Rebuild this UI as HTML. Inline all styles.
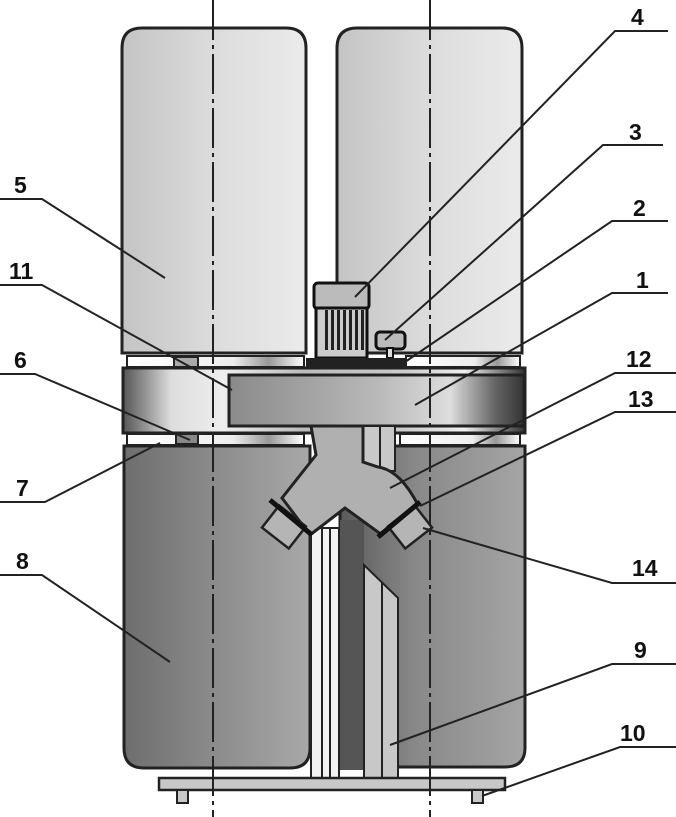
<!DOCTYPE html>
<html><head><meta charset="utf-8"><style>
html,body{margin:0;padding:0;background:#fff}
svg{display:block}
text{font-family:"Liberation Sans",sans-serif;font-weight:bold;font-size:23px;fill:#111}
</style></head><body>
<svg width="676" height="817" viewBox="0 0 676 817" xmlns="http://www.w3.org/2000/svg">
<defs>
<linearGradient id="top" x1="0" x2="1"><stop offset="0" stop-color="#c4c4c4"/><stop offset="0.5" stop-color="#dcdcdc"/><stop offset="1" stop-color="#ebebeb"/></linearGradient>
<linearGradient id="bot" x1="0" x2="1"><stop offset="0" stop-color="#6e6e6e"/><stop offset="0.5" stop-color="#8c8c8c"/><stop offset="1" stop-color="#a8a8a8"/></linearGradient>
<linearGradient id="botr" x1="0" x2="1"><stop offset="0" stop-color="#5a5a5a"/><stop offset="0.4" stop-color="#888"/><stop offset="1" stop-color="#a5a5a5"/></linearGradient>
<linearGradient id="band" x1="0" x2="1"><stop offset="0" stop-color="#555"/><stop offset="0.12" stop-color="#ddd"/><stop offset="0.25" stop-color="#eee"/><stop offset="0.45" stop-color="#bbb"/><stop offset="0.7" stop-color="#ccc"/><stop offset="0.85" stop-color="#f0f0f0"/><stop offset="1" stop-color="#333"/></linearGradient>
<linearGradient id="box" x1="0" x2="1"><stop offset="0" stop-color="#8a8a8a"/><stop offset="0.5" stop-color="#b8b8b8"/><stop offset="0.75" stop-color="#ddd"/><stop offset="0.9" stop-color="#666"/><stop offset="1" stop-color="#333"/></linearGradient>
<linearGradient id="ring" x1="0" x2="1"><stop offset="0" stop-color="#fff"/><stop offset="0.6" stop-color="#eee"/><stop offset="0.8" stop-color="#999"/><stop offset="1" stop-color="#fff"/></linearGradient>
</defs>
<!-- top bags -->
<path d="M122,353 V48 Q122,28 142,28 H286 Q306,28 306,48 V353 Z" fill="url(#top)" stroke="#222" stroke-width="3"/>
<path d="M337,353 V48 Q337,28 357,28 H502 Q522,28 522,48 V353 Z" fill="url(#top)" stroke="#222" stroke-width="3"/>
<!-- upper rings -->
<rect x="127" y="356" width="177" height="11" fill="url(#ring)" stroke="#222" stroke-width="2"/>
<rect x="406" y="356" width="114" height="11" fill="url(#ring)" stroke="#222" stroke-width="2"/>
<rect x="174" y="357" width="24" height="10" fill="#aaa" stroke="#222" stroke-width="2"/>
<!-- lower bags -->
<path d="M124,446 V748 Q124,768 144,768 H290 Q310,768 310,748 V446 Z" fill="url(#bot)" stroke="#222" stroke-width="3"/>
<path d="M340,446 V748 Q340,767 360,767 H505 Q525,767 525,748 V446 Z" fill="url(#botr)" stroke="#222" stroke-width="3"/>
<!-- lower rings -->
<rect x="127" y="434" width="177" height="11" fill="url(#ring)" stroke="#222" stroke-width="2"/>
<rect x="400" y="434" width="120" height="11" fill="url(#ring)" stroke="#222" stroke-width="2"/>
<rect x="176" y="434" width="22" height="10" fill="#888" stroke="#222" stroke-width="2"/>
<!-- blower band -->
<rect x="123" y="368" width="402" height="65" fill="url(#band)" stroke="#222" stroke-width="3"/>
<rect x="229" y="375" width="295" height="51" fill="url(#box)" stroke="#222" stroke-width="3"/>
<!-- motor -->
<rect x="314" y="283" width="55" height="26" rx="4" fill="#bbb" stroke="#111" stroke-width="3"/>
<rect x="316" y="308" width="51" height="50" fill="#ccc" stroke="#111" stroke-width="3"/>
<g fill="#222"><rect x="325" y="310" width="3" height="40"/><rect x="331" y="310" width="3" height="40"/><rect x="337" y="310" width="3" height="40"/><rect x="343" y="310" width="3" height="40"/><rect x="349" y="310" width="3" height="40"/><rect x="355" y="310" width="3" height="40"/><rect x="361" y="310" width="3" height="40"/></g>
<rect x="376" y="332" width="29" height="17" rx="4" fill="#bbb" stroke="#111" stroke-width="3"/>
<rect x="387" y="348" width="6" height="10" fill="#ddd" stroke="#111" stroke-width="2"/>
<rect x="306" y="358" width="100" height="10" fill="#222"/>
<!-- pole & column -->
<rect x="311" y="528" width="28" height="250" fill="#f2f2f2" stroke="#222" stroke-width="2"/>
<line x1="322" y1="528" x2="322" y2="778" stroke="#222" stroke-width="2"/>
<line x1="330" y1="528" x2="330" y2="778" stroke="#222" stroke-width="2"/>
<rect x="340" y="520" width="24" height="250" fill="#555"/>
<path d="M364,565 L398,598 V778 H364 Z" fill="#c8c8c8" stroke="#222" stroke-width="2"/>
<line x1="382" y1="583" x2="382" y2="778" stroke="#222" stroke-width="2"/>
<rect x="363" y="426" width="32" height="45" fill="#c8c8c8" stroke="#222" stroke-width="2"/>
<line x1="380" y1="426" x2="380" y2="471" stroke="#222" stroke-width="2"/>
<!-- Y pipe -->
<path d="M311,426 L316,455 L282,498 L310,535 L345,508 L382,535 L418,505 Q400,470 378,467 L363,462 V426 Z" fill="#b0b0b0" stroke="#222" stroke-width="3"/>
<rect x="-17" y="-14" width="34" height="28" fill="#b5b5b5" stroke="#222" stroke-width="2.5" transform="translate(284,527) rotate(38)"/>
<rect x="-17" y="-14" width="34" height="28" fill="#b5b5b5" stroke="#222" stroke-width="2.5" transform="translate(410,527) rotate(-38)"/>
<line x1="270" y1="500" x2="312" y2="535" stroke="#111" stroke-width="5"/>
<line x1="378" y1="537" x2="420" y2="502" stroke="#111" stroke-width="5"/>
<!-- base -->
<rect x="159" y="778" width="346" height="12" fill="#c8c8c8" stroke="#222" stroke-width="2.5"/>
<rect x="177" y="790" width="11" height="13" fill="#c8c8c8" stroke="#222" stroke-width="2"/>
<rect x="472" y="790" width="11" height="13" fill="#c8c8c8" stroke="#222" stroke-width="2"/>
<!-- centerlines -->
<line x1="213" y1="0" x2="213" y2="817" stroke="#222" stroke-width="2" stroke-dasharray="40,5,4,5"/>
<line x1="430" y1="0" x2="430" y2="817" stroke="#222" stroke-width="2" stroke-dasharray="40,5,4,5"/>
<!-- leaders -->
<g stroke="#222" stroke-width="2" fill="none">
<polyline points="668,31 615,31 355,297"/>
<polyline points="663,145 603,145 385,340"/>
<polyline points="668,221 612,221 405,362"/>
<polyline points="668,293 612,293 415,405"/>
<polyline points="676,373 615,373 390,488"/>
<polyline points="676,412 615,412 420,506"/>
<polyline points="676,583 612,583 423,528"/>
<polyline points="676,664 612,664 390,745"/>
<polyline points="676,747 620,747 482,796"/>
<polyline points="0,199 42,199 165,278"/>
<polyline points="0,285 42,285 232,390"/>
<polyline points="0,374 35,374 190,440"/>
<polyline points="0,502 45,502 160,443"/>
<polyline points="0,575 42,575 170,662"/>
</g>
<text x="631" y="25">4</text>
<text x="629" y="140">3</text>
<text x="633" y="216">2</text>
<text x="636" y="288">1</text>
<text x="626" y="367">12</text>
<text x="628" y="407">13</text>
<text x="632" y="576">14</text>
<text x="634" y="658">9</text>
<text x="620" y="741">10</text>
<text x="14" y="193">5</text>
<text x="9" y="279">11</text>
<text x="14" y="368">6</text>
<text x="16" y="496">7</text>
<text x="16" y="569">8</text>
</svg>
</body></html>
